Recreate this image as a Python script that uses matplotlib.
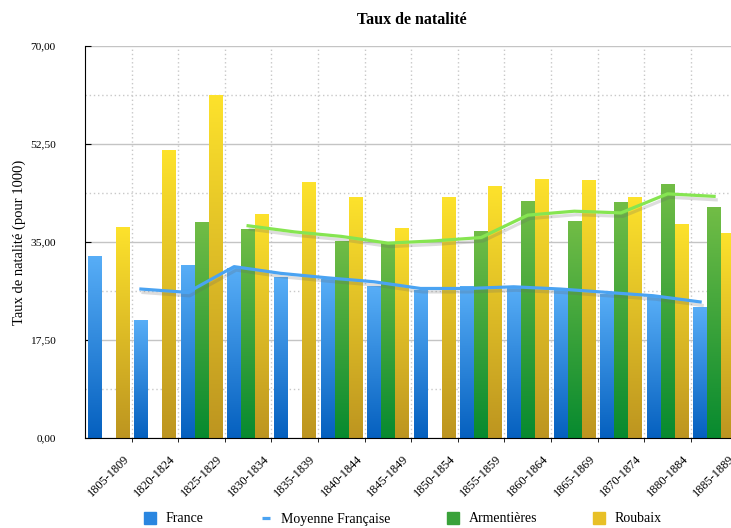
import numpy as np
import matplotlib
matplotlib.use('Agg')
import matplotlib.pyplot as plt
import matplotlib.patheffects as pe
from matplotlib.colors import LinearSegmentedColormap
from matplotlib.lines import Line2D
from matplotlib.ticker import FuncFormatter, MultipleLocator, FixedLocator

plt.rcParams['font.family'] = ['Liberation Serif', 'DejaVu Serif']

nan = np.nan
periods = ['1805-1809', '1820-1824', '1825-1829', '1830-1834', '1835-1839',
           '1840-1844', '1845-1849', '1850-1854', '1855-1859', '1860-1864',
           '1865-1869', '1870-1874', '1880-1884', '1885-1889']
france = [32.5, 21.1, 30.9, 30.3, 28.75, 28.4, 27.1, 26.4, 27.1, 27.0, 26.5, 25.8, 25.2, 23.4]
armentieres = [nan, nan, 38.6, 37.3, nan, 35.2, 34.8, nan, 37.0, 42.3, 38.75, 42.1, 45.4, 41.25]
roubaix = [37.6, 51.4, 61.25, 40.0, 45.7, 43.0, 37.5, 43.0, 45.0, 46.25, 46.1, 43.0, 38.2, 36.6]
moy_france = [nan, 26.6, 26.0, 30.6, 29.4, 28.6, 27.9, 26.7, 26.7, 27.0, 26.6, 26.0, 25.4, 24.3]
moy_armentieres = [nan, nan, nan, 37.9, 36.8, 36.0, 34.8, 35.2, 35.8, 39.8, 40.5, 40.2, 43.6, 43.15]

x = np.arange(len(periods))
w = 0.29
off = 0.3

fig = plt.figure(figsize=(7.31, 5.28), dpi=100)
ax = fig.add_axes([85 / 731, 1 - 438 / 528, 1 - 85 / 731, (438 - 46) / 528])

# gradient bars: bottom colour -> top colour
series = [
    (france, -off, '#0560bf', '#58aef7', 'France'),
    (armentieres, 0, '#078a2f', '#72bd46', 'Armentières'),
    (roubaix, off, '#bd9520', '#fde22c', 'Roubaix'),
]
grad = np.linspace(0, 1, 256).reshape(-1, 1)
for vals, o, c0, c1, name in series:
    cmap = LinearSegmentedColormap.from_list(name, [c0, c1])
    bars = ax.bar(x + o, vals, width=w, facecolor='none', edgecolor='none', zorder=2)
    for b in bars:
        h = b.get_height()
        if not np.isfinite(h) or h <= 0:
            continue
        im = ax.imshow(grad, cmap=cmap, origin='lower', aspect='auto',
                       extent=[b.get_x(), b.get_x() + b.get_width(), 0, h], zorder=2)
        im.set_clip_path(b)

shadow = [pe.SimpleLineShadow(offset=(1.5, -2.5), shadow_color='#666666', alpha=0.22),
          pe.Normal()]
ax.plot(x - off, moy_france, color='#4aa3f2', lw=2.3, zorder=4, path_effects=shadow)
ax.plot(x, moy_armentieres, color='#86e551', lw=2.3, zorder=4, path_effects=shadow)

ax.set_xlim(-0.5, -0.5 + (731 - 85) / 46.6)
ax.set_ylim(0, 70)

ax.yaxis.set_major_locator(MultipleLocator(17.5))
ax.yaxis.set_minor_locator(MultipleLocator(8.75))
ax.yaxis.set_major_formatter(FuncFormatter(lambda v, p: f'{v:.2f}'.replace('.', ',')))
ax.tick_params(axis='y', which='major', direction='in', length=4, pad=21, labelsize=8.2)
ax.tick_params(axis='y', which='minor', direction='in', length=0)

ax.set_xticks(x)
ax.set_xticklabels(periods, rotation=45, ha='center', va='top', fontsize=8.8)
ax.xaxis.set_minor_locator(FixedLocator(np.arange(len(periods)) + 0.5))
ax.tick_params(axis='x', which='major', length=0, pad=11)
ax.tick_params(axis='x', which='minor', direction='out', length=3)

ax.grid(axis='y', which='major', color='#c4c4c4', lw=1, ls='-', zorder=0)
ax.grid(axis='y', which='minor', color='#c8c8c8', lw=1, ls=(0, (1, 2)), zorder=0)
ax.grid(axis='x', which='minor', color='#c8c8c8', lw=1, ls=(0, (1, 2)), zorder=0)
ax.set_axisbelow(True)

for s in ['top', 'right']:
    ax.spines[s].set_visible(False)
ax.spines['left'].set_color('black')
ax.spines['bottom'].set_color('black')

ax.set_ylabel('Taux de natalité (pour 1000)', fontsize=10.5)
ax.yaxis.set_label_coords(-59 / 646, 0.5)
fig.text(412 / 731, 1 - 20 / 528, 'Taux de natalité', ha='center', va='center',
         fontsize=11.5, fontweight='bold')

handles = [
    Line2D([], [], ls='none', marker='s', markersize=8, color='#2a86e0'),
    Line2D([], [], color='#4aa3f2', lw=2.3, solid_capstyle='butt'),
    Line2D([], [], ls='none', marker='s', markersize=8, color='#3aa23a'),
    Line2D([], [], ls='none', marker='s', markersize=8, color='#e8c027'),
]
labels = ['France', 'Moyenne Française', 'Armentières', 'Roubaix']
fig.legend(handles, labels, loc='center', bbox_to_anchor=(404 / 731, 1 - 519 / 528),
           ncol=4, frameon=False, fontsize=10, handlelength=0.6, handletextpad=0.8,
           columnspacing=4.2)

fig.savefig('out.png', dpi=100)
